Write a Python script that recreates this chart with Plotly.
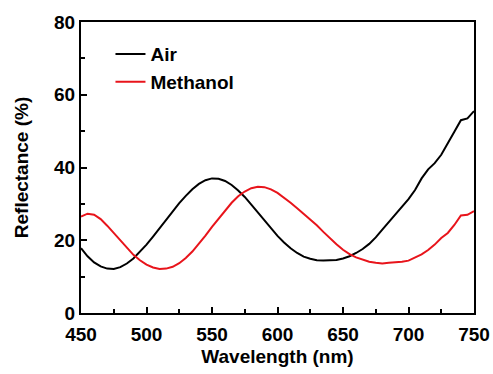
import plotly.graph_objects as go

wavelength = list(range(450, 751, 5))

air = [17.8, 15.6, 13.9, 12.8, 12.2, 12.1, 12.6, 13.6, 15.0, 16.8,
       18.8, 21.0, 23.3, 25.7, 28.0, 30.2, 32.2, 34.0, 35.5, 36.5,
       37.0, 36.9, 36.3, 35.2, 33.7, 31.9, 29.8, 27.6, 25.4, 23.2,
       21.2, 19.4, 17.8, 16.5, 15.5, 14.9, 14.5, 14.4, 14.4, 14.6,
       15.0, 15.6, 16.5, 17.6, 19.0, 20.8, 22.9, 25.0, 27.0, 29.2,
       31.3, 33.8, 37.0, 39.5, 41.2, 43.5, 46.5, 49.8, 53.0, 53.5,
       55.5]

methanol = [26.5, 27.3, 27.0, 25.8, 24.0, 22.0, 19.9, 17.8, 16.0, 14.5,
            13.3, 12.5, 12.1, 12.2, 12.7, 13.7, 15.1, 16.9, 19.0, 21.3,
            23.7, 26.0, 28.3, 30.3, 32.1, 33.4, 34.3, 34.7, 34.6, 34.0,
            33.0, 31.7, 30.3, 28.8, 27.3, 25.7, 24.1, 22.3, 20.5, 18.9,
            17.4, 16.2, 15.3, 14.6, 14.1, 13.8, 13.6, 13.8, 13.9, 14.1,
            14.4, 15.2, 16.1, 17.3, 18.8, 20.6, 22.0, 24.2, 26.8, 27.0,
            28.0]

x_ticks = [450, 500, 550, 600, 650, 700, 750]
y_ticks = [0, 20, 40, 60, 80]

font_family = "Liberation Sans, Arial, sans-serif"

fig = go.Figure()
fig.add_trace(go.Scatter(x=wavelength, y=air, mode="lines", name="Air",
                         line=dict(color="black", width=2)))
fig.add_trace(go.Scatter(x=wavelength, y=methanol, mode="lines", name="Methanol",
                         line=dict(color="#e8141b", width=2)))

axis_common = dict(
    showline=True, linecolor="black", linewidth=2, mirror=True,
    ticks="inside", ticklen=6, tickwidth=2, tickcolor="black",
    showgrid=False, zeroline=False, automargin=False,
    tickfont=dict(family=font_family, size=19, color="black", weight="bold"),
)

fig.update_xaxes(range=[450, 750], tickvals=x_ticks, ticklabelstandoff=3,
                 minor=dict(ticks="inside", ticklen=4, tickwidth=1.5, tickcolor="black", dtick=25, tick0=450),
                 title=dict(text="<b>Wavelength (nm)</b>", font=dict(family=font_family, size=19, color="black"), standoff=6),
                 **axis_common)
fig.update_yaxes(range=[0, 80], tickvals=y_ticks,
                 minor=dict(ticks="inside", ticklen=4, tickwidth=1.5, tickcolor="black", dtick=10, tick0=0),
                 title=dict(text="<b>Reflectance (%)</b>", font=dict(family=font_family, size=19, color="black"), standoff=20),
                 **axis_common)

fig.update_layout(
    width=493, height=374,
    margin=dict(l=81, r=19, t=22, b=61),
    plot_bgcolor="white", paper_bgcolor="white",
    legend=dict(x=0.075, y=0.955, xanchor="left", yanchor="top",
                bgcolor="rgba(0,0,0,0)",
                font=dict(family=font_family, size=19, color="black", weight="bold"),
                tracegroupgap=0),
)

fig.write_html("out.html")
